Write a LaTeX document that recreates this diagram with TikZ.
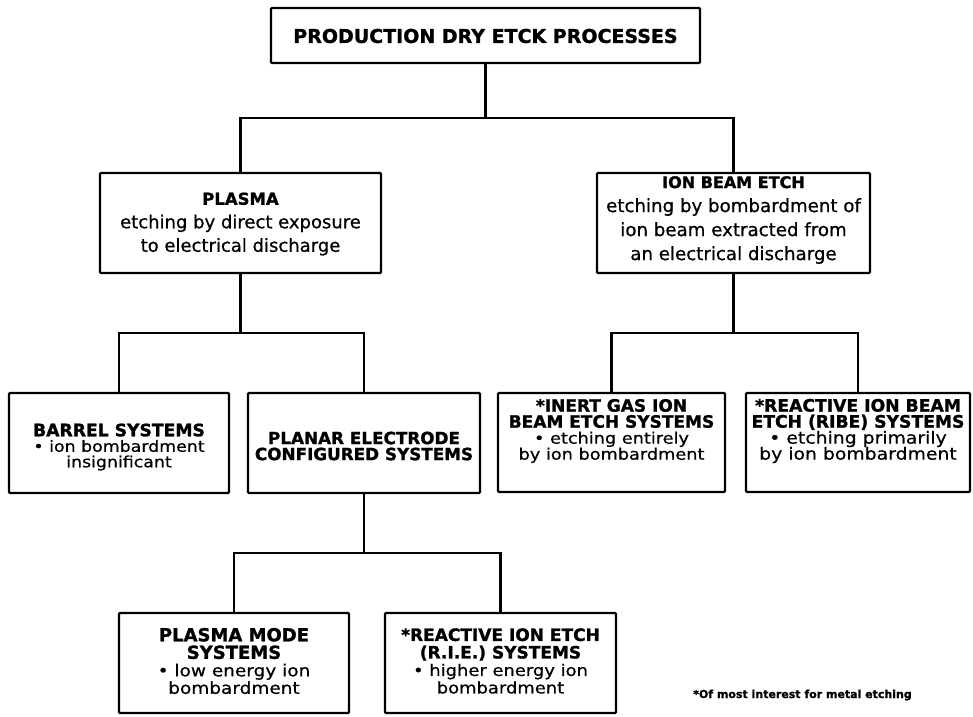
\documentclass[tikz,border=0pt]{standalone}
\usepackage{fontspec}
\setmainfont{DejaVu Sans}[BoldFeatures={FakeBold=1.2}]
\newfontfamily\bodyw[FakeStretch=1.12,FakeBold=0.6]{DejaVu Sans}
\newfontfamily\bodyr[FakeBold=0.6]{DejaVu Sans}
\usetikzlibrary{calc}
\newcommand\tb[2]{{\bfseries\fontsize{#1}{#1}\selectfont #2}}
\newcommand\bw[2]{{\bodyw\fontsize{#1}{#1}\selectfont #2}}
\newcommand\br[2]{{\bodyr\fontsize{#1}{#1}\selectfont #2}}
\setlength\lineskiplimit{-20pt}
\begin{document}
\begin{tikzpicture}[x=1pt,y=-1pt,
  box/.style={draw, line width=2.2pt, rounded corners=1pt, inner sep=0pt},
  conn/.style={line width=2.2pt},
  txt/.style={align=center, inner sep=0pt}]
\useasboundingbox (0,0) rectangle (973,716);
\fill[white] (0,0) rectangle (973,716);

% boxes
\node[box, minimum width=429pt, minimum height=55pt] (top) at (485.5,35.5) {};
\node[box, minimum width=281pt, minimum height=100pt] (plasma) at (240.5,223) {};
\node[box, minimum width=273pt, minimum height=100pt] (ion) at (733.5,223) {};
\node[box, minimum width=220pt, minimum height=100pt] (barrel) at (119,443) {};
\node[box, minimum width=232pt, minimum height=100pt] (planar) at (364,443) {};
\node[box, minimum width=227pt, minimum height=99pt] (inert) at (611.5,442.5) {};
\node[box, minimum width=224pt, minimum height=99pt] (ribe) at (858,442.5) {};
\node[box, minimum width=230pt, minimum height=100pt] (pmode) at (234,663) {};
\node[box, minimum width=231pt, minimum height=100pt] (rie) at (500.5,663) {};

% texts
\node[txt] (top-t) at (485.5,36) {\tb{19}{PRODUCTION DRY ETCK PROCESSES}};
\node[txt, font=\fontsize{18}{23.5}\selectfont] (plasma-t) at (240.5,224)
  {\tb{16.5}{PLASMA}\\ \br{18}{etching by direct exposure}\\ \br{18}{to electrical discharge}};
\node[txt, font=\fontsize{18}{24}\selectfont] (ion-t) at (733.5,220)
  {\tb{16}{ION BEAM ETCH}\\ \br{18.2}{etching by bombardment of}\\ \br{18.2}{ion beam extracted from}\\ \br{18.2}{an electrical discharge}};
\node[txt, font=\fontsize{16}{15.5}\selectfont] (barrel-t) at (119,447)
  {\tb{17.2}{BARREL SYSTEMS}\\ \bw{15.5}{• ion bombardment}\\ \bw{15.5}{insignificant}};
\node[txt, font=\fontsize{16}{16}\selectfont] (planar-t) at (364,446)
  {\tb{16.8}{PLANAR ELECTRODE}\\ \tb{16.8}{CONFIGURED SYSTEMS}};
\node[txt, font=\fontsize{16}{16}\selectfont] (inert-t) at (611.5,431)
  {\tb{17}{*INERT GAS ION}\\ \tb{17}{BEAM ETCH SYSTEMS}\\ \bw{15.8}{• etching entirely}\\ \bw{15.8}{by ion bombardment}};
\node[txt, font=\fontsize{16}{16}\selectfont] (ribe-t) at (858,431)
  {\tb{17.2}{*REACTIVE ION BEAM}\\ \tb{17.2}{ETCH (RIBE) SYSTEMS}\\ \bw{16.8}{• etching primarily}\\ \bw{16.8}{by ion bombardment}};
\node[txt, font=\fontsize{16}{17.5}\selectfont] (pmode-t) at (234,661)
  {\tb{18}{PLASMA MODE}\\ \tb{18}{SYSTEMS}\\ \bw{16.5}{• low energy ion}\\ \bw{16.5}{bombardment}};
\node[txt, font=\fontsize{16}{17.5}\selectfont] (rie-t) at (500.5,661)
  {\tb{17}{*REACTIVE ION ETCH}\\ \tb{17}{(R.I.E.) SYSTEMS}\\ \bw{16}{• higher energy ion}\\ \bw{16}{bombardment}};
\node[txt, anchor=west] (fn) at (693,695) {\tb{11}{*Of most interest for metal etching}};

% connectors
\coordinate (j0) at ($(top.south)!0.5!(top.south |- plasma.north)$);
\draw[conn] (top.south) -- (j0);
\draw[conn] (plasma.north) |- (j0) -| (ion.north);

\coordinate (j1) at ($(plasma.south)!0.5!(plasma.south |- barrel.north)$);
\draw[conn] (plasma.south) -- (j1);
\draw[conn] (barrel.north) |- (j1) -| (planar.north);

\coordinate (j2) at ($(ion.south)!0.5!(ion.south |- inert.north)$);
\draw[conn] (ion.south) -- (j2);
\draw[conn] (inert.north) |- (j2) -| (ribe.north);

\coordinate (j3) at ($(planar.south)!0.5!(planar.south |- pmode.north)$);
\draw[conn] (planar.south) -- (j3);
\draw[conn] (pmode.north) |- (j3) -| (rie.north);
\end{tikzpicture}
\end{document}
